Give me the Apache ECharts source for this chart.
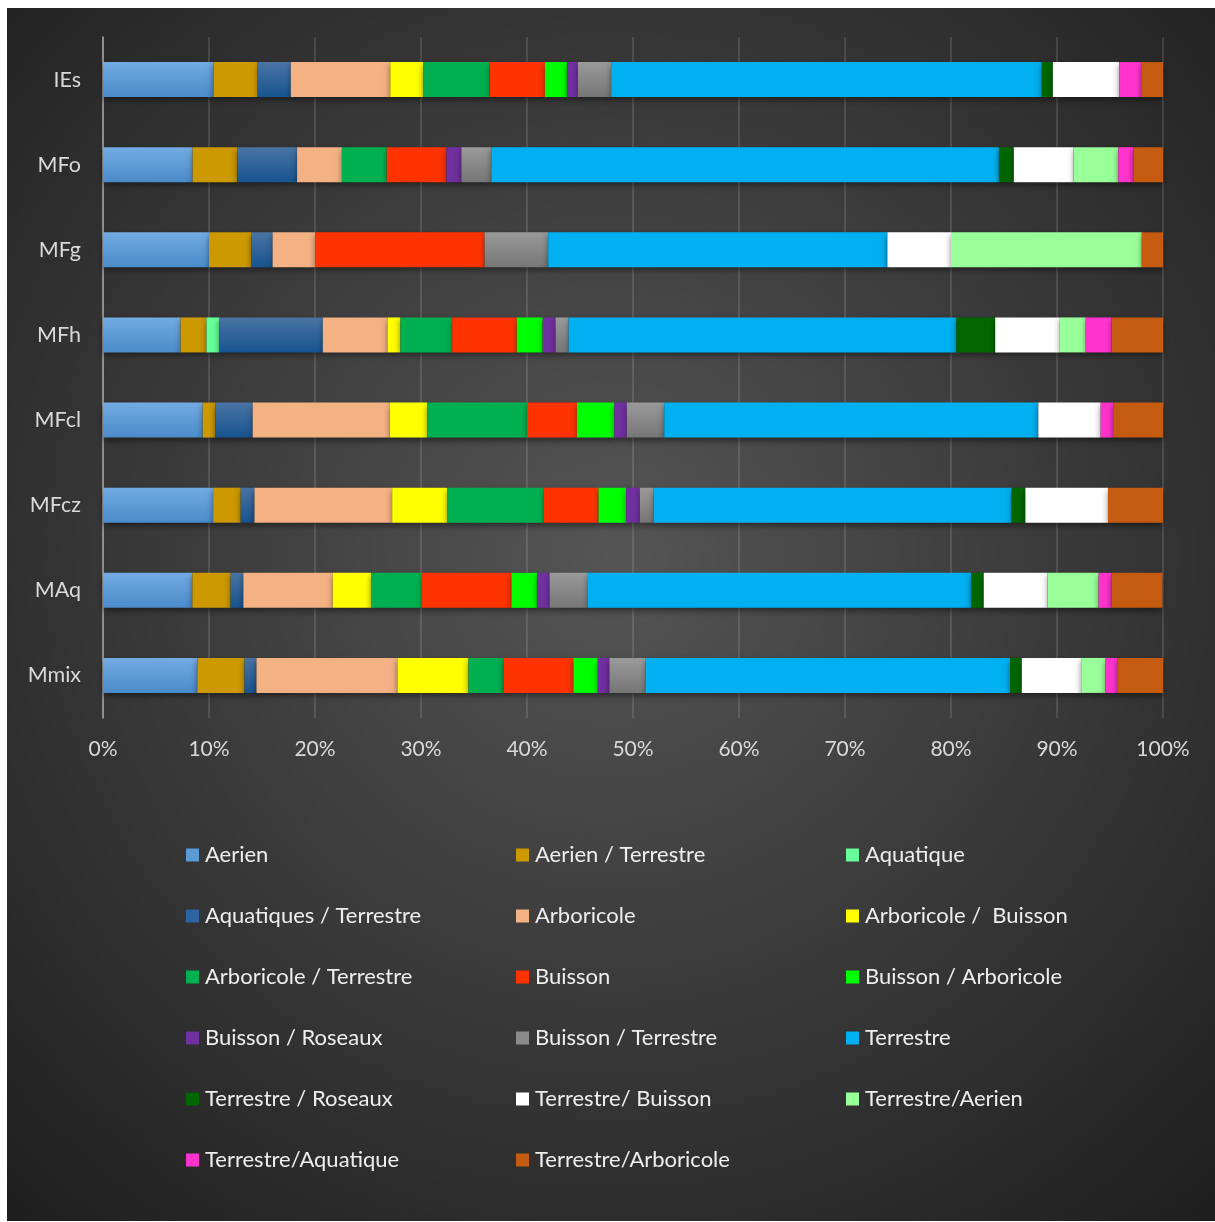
<!DOCTYPE html>
<html>
<head>
<meta charset="utf-8">
<script src="https://cdn.jsdelivr.net/npm/echarts@6/dist/echarts.min.js"></script>
<style>
  html, body { margin: 0; padding: 0; background: #ffffff; }
  #chart { position: absolute; left: 7px; top: 8px; width: 1208px; height: 1213px; }
</style>
</head>
<body>
<div id="chart"></div>
<script>
// Categories, top to bottom
const categories = ['IEs', 'MFo', 'MFg', 'MFh', 'MFcl', 'MFcz', 'MAq', 'Mmix'];

// Series values (percent of each bar), in category order
const aerien              = [10.42, 8.45, 10.0, 7.32, 9.41, 10.39, 8.43, 8.9];
const aerienTerrestre     = [4.17, 4.23, 4.0, 2.44, 1.18, 2.60, 3.61, 4.45];
const aquatique           = [0, 0, 0, 1.22, 0, 0, 0, 0];
const aquatiquesTerrestre = [3.13, 5.63, 2.0, 9.76, 3.53, 1.30, 1.20, 1.13];
const arboricole          = [9.38, 4.23, 4.0, 6.10, 12.94, 12.99, 8.43, 13.3];
const arboricoleBuisson   = [3.13, 0, 0, 1.22, 3.53, 5.19, 3.61, 6.7];
const arboricoleTerrestre = [6.25, 4.23, 0, 4.88, 9.41, 9.09, 4.82, 3.3];
const buisson             = [5.21, 5.63, 16.0, 6.10, 4.71, 5.19, 8.43, 6.6];
const buissonArboricole   = [2.08, 0, 0, 2.44, 3.53, 2.60, 2.41, 2.3];
const buissonRoseaux      = [1.04, 1.41, 0, 1.22, 1.18, 1.30, 1.20, 1.1];
const buissonTerrestre    = [3.13, 2.82, 6.0, 1.22, 3.53, 1.30, 3.61, 3.4];
const terrestre           = [40.63, 47.89, 32.0, 36.59, 35.29, 33.77, 36.14, 34.4];
const terrestreRoseaux    = [1.04, 1.41, 0, 3.66, 0, 1.30, 1.20, 1.1];
const terrestreBuisson    = [6.25, 5.63, 6.0, 6.10, 5.88, 7.79, 6.02, 5.6];
const terrestreAerien     = [0, 4.23, 18.0, 2.44, 0, 0, 4.82, 2.3];
const terrestreAquatique  = [2.08, 1.41, 0, 2.44, 1.18, 0, 1.20, 1.1];
const terrestreArboricole = [2.08, 2.82, 2.0, 4.88, 4.71, 5.19, 4.82, 4.5];

// Tick labels
const xTicks = [0, 10, 20, 30, 40, 50, 60, 70, 80, 90, 100];

function grad(top, bottom) {
  return new echarts.graphic.LinearGradient(0, 0, 0, 1, [
    { offset: 0, color: top }, { offset: 1, color: bottom }
  ]);
}

const seriesDefs = [
  ['Aerien', aerien, grad('#73abe2', '#4a8bca'), '#5b9bd5'],
  ['Aerien / Terrestre', aerienTerrestre, '#cc9900'],
  ['Aquatique', aquatique, '#66ff99'],
  ['Aquatiques / Terrestre', aquatiquesTerrestre, grad('#4a74a4', '#17548f'), '#2e64a0'],
  ['Arboricole', arboricole, '#f4b183'],
  ['Arboricole /  Buisson', arboricoleBuisson, '#ffff00'],
  ['Arboricole / Terrestre', arboricoleTerrestre, '#00b050'],
  ['Buisson', buisson, '#ff3300'],
  ['Buisson / Arboricole', buissonArboricole, '#00ff00'],
  ['Buisson / Roseaux', buissonRoseaux, '#7030a0'],
  ['Buisson / Terrestre', buissonTerrestre, grad('#9a9a9a', '#767676'), '#8a8a8a'],
  ['Terrestre', terrestre, '#00b0f0'],
  ['Terrestre / Roseaux', terrestreRoseaux, '#006600'],
  ['Terrestre/ Buisson', terrestreBuisson, '#ffffff'],
  ['Terrestre/Aerien', terrestreAerien, '#99ff99'],
  ['Terrestre/Aquatique', terrestreAquatique, '#ff33cc'],
  ['Terrestre/Arboricole', terrestreArboricole, '#c55a11']
];

const FONT = 'Lato, "Open Sans", sans-serif';

const series = seriesDefs.map(d => ({
  name: d[0],
  type: 'bar',
  stack: 'total',
  data: d[1],
  barWidth: 35,
  itemStyle: {
    color: d[2],
    shadowColor: 'rgba(0,0,0,0.45)',
    shadowBlur: 6,
    shadowOffsetY: 3
  },
  emphasis: { disabled: true }
}));

// Legends: 3 columns x 6 rows
const legendCols = [179, 509, 839];
const legendRowTop = 836;
const legendRowGap = 61;
const legends = seriesDefs.map((d, i) => ({
  data: [{ name: d[0], itemStyle: { color: d[3] || d[2], shadowBlur: 0 } }],
  left: legendCols[i % 3],
  top: legendRowTop + Math.floor(i / 3) * legendRowGap,
  icon: 'rect',
  itemWidth: 13,
  itemHeight: 13,
  itemGap: 0,
  padding: 0,
  selectedMode: false,
  textStyle: { color: '#eeeeee', fontSize: 22, fontFamily: FONT, padding: [0, 0, 0, 1] }
}));

const chart = echarts.init(document.getElementById('chart'));
chart.setOption({
  animation: false,
  backgroundColor: new echarts.graphic.RadialGradient(0.5, 0.45, 0.75, [
    { offset: 0, color: '#555555' },
    { offset: 1, color: '#1e1e1e' }
  ]),
  grid: { left: 96, width: 1060, top: 29, height: 681, containLabel: false },
  legend: legends,
  xAxis: {
    type: 'value',
    min: xTicks[0],
    max: xTicks[xTicks.length - 1],
    interval: 10,
    axisLine: { show: false },
    axisTick: { show: false },
    splitLine: { show: true, lineStyle: { color: 'rgba(255,255,255,0.12)', width: 2 } },
    axisLabel: {
      formatter: '{value}%',
      color: '#d9d9d9',
      fontSize: 21,
      fontFamily: FONT,
      margin: 21
    }
  },
  yAxis: {
    type: 'category',
    data: categories,
    inverse: true,
    axisLine: { show: true, lineStyle: { color: '#a6a6a6', width: 1.5 } },
    axisTick: { show: false },
    axisLabel: {
      color: '#d9d9d9',
      fontSize: 21.5,
      fontFamily: FONT,
      margin: 22
    }
  },
  series: series
});
</script>
</body>
</html>
